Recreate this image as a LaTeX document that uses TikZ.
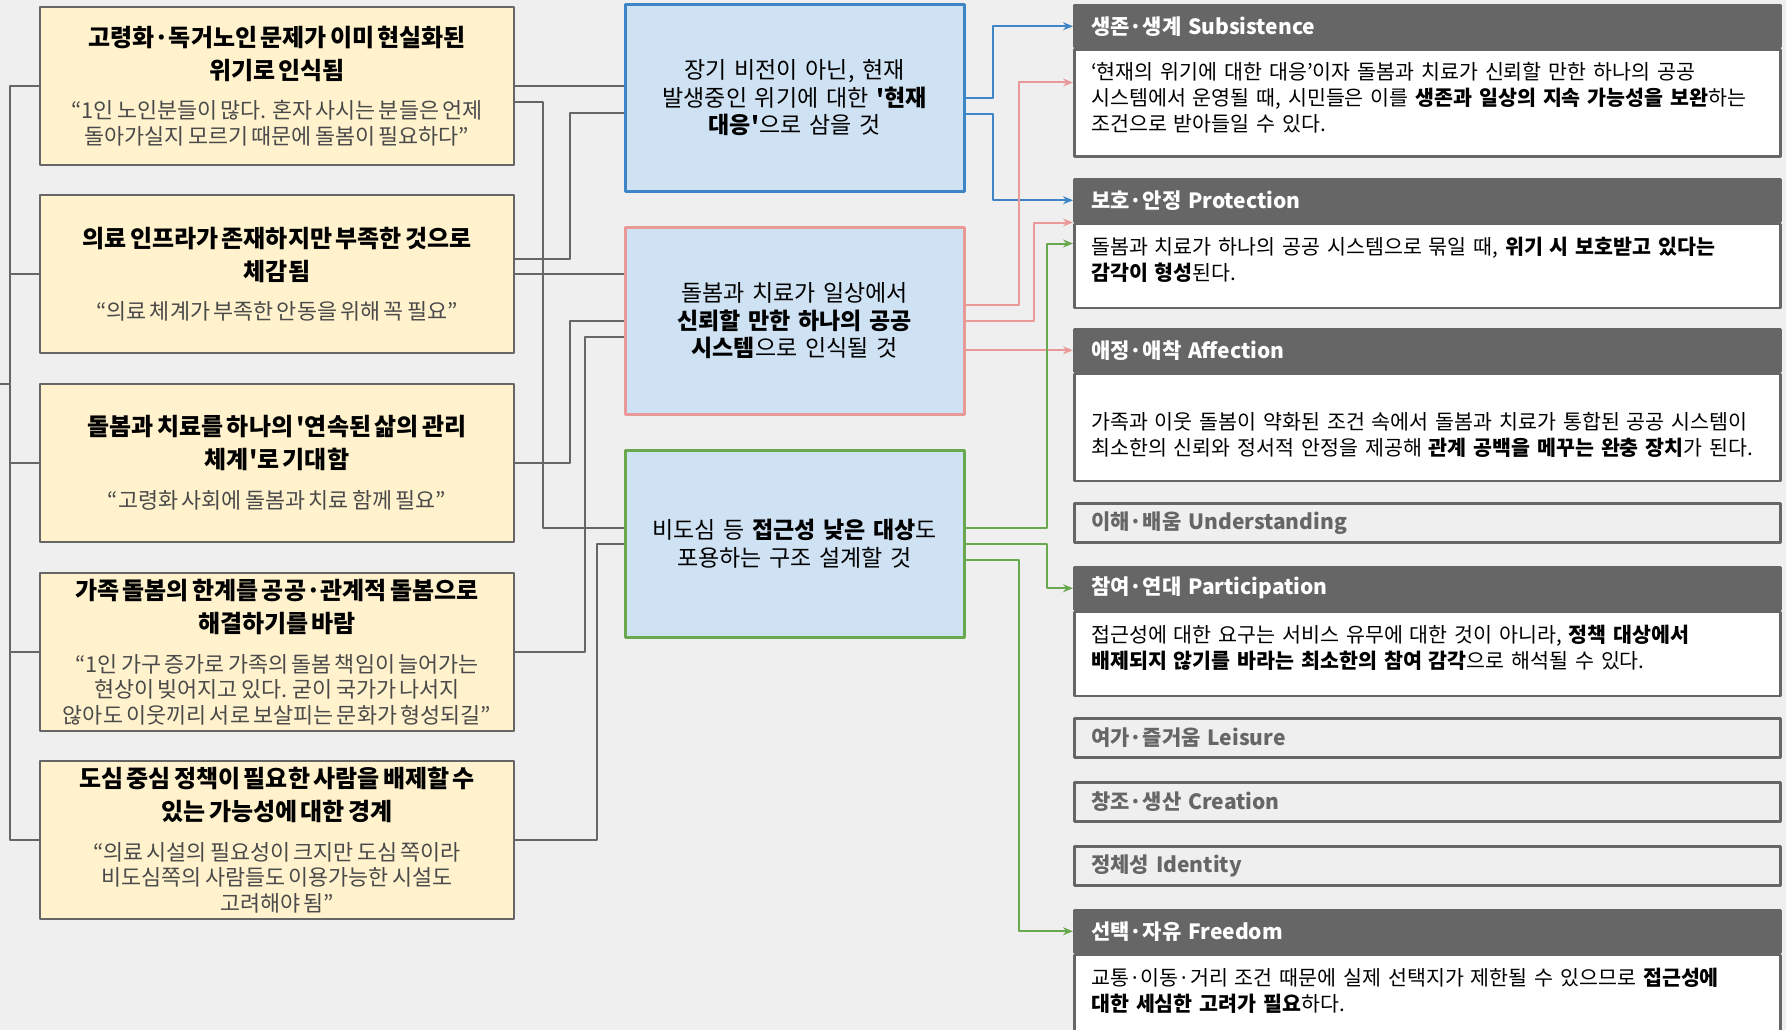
\documentclass[tikz,border=0pt]{standalone}
\usepackage{fontspec}
\setmainfont{Noto Sans CJK KR}
\usepackage{tikz}
\usetikzlibrary{calc,arrows.meta,positioning}

\definecolor{bgcol}{HTML}{EFEFEF}
\definecolor{noteyel}{HTML}{FFF2CC}
\definecolor{midfill}{HTML}{CFE2F3}
\definecolor{linkgray}{HTML}{666666}
\definecolor{blueln}{HTML}{3D85C6}
\definecolor{pinkln}{HTML}{EA9999}
\definecolor{greenln}{HTML}{6AA84F}
\definecolor{quotegray}{HTML}{4A4A4A}

\newcommand{\findtitle}{\fontsize{24}{33}\selectfont\bfseries}
\newcommand{\findquote}{\par\vspace{14pt}\fontsize{21.8}{25.5}\selectfont\mdseries\color{quotegray}}

\tikzset{
  finding/.style={draw=linkgray, line width=2.5pt, fill=noteyel, minimum width=474, minimum height=158,
    text width=460, align=center, inner sep=0},
  direction/.style={fill=midfill, line width=3pt, minimum width=339, minimum height=187,
    text width=324, align=center, inner sep=0, font=\fontsize{23}{27.5}\selectfont},
  needhead/.style={anchor=north west, fill=linkgray, draw=linkgray, line width=2.5pt, minimum width=706,
    minimum height=42, text width=672, inner xsep=17, inner ysep=0, align=left, text=white,
    font=\fontsize{21}{24}\selectfont\bfseries},
  needbody/.style={anchor=north west, fill=white, draw=linkgray, line width=2.5pt, minimum width=706,
    text width=672, inner xsep=17, inner ysep=0, align=left, font=\fontsize{20.6}{26}\selectfont,
    execute at end node={\par\vspace{11pt}}},
  needoff/.style={anchor=north west, fill=bgcol, draw=linkgray, line width=2.5pt, minimum width=706,
    minimum height=39, text width=672, inner xsep=17, inner ysep=0, align=left, text=linkgray,
    font=\fontsize{21}{24}\selectfont\bfseries},
  link/.style={draw=linkgray, line width=2pt},
  bluearr/.style={draw=blueln, line width=2pt, -{Stealth[length=10pt,width=8pt]}},
  pinkarr/.style={draw=pinkln, line width=2pt, -{Stealth[length=10pt,width=8pt]}},
  greenarr/.style={draw=greenln, line width=2pt, -{Stealth[length=10pt,width=8pt]}}
}

\begin{document}
\begin{tikzpicture}[x=1pt, y=-1pt, line join=round]
\useasboundingbox (0,0) rectangle (1786,1030);
\fill[bgcol] (0,0) rectangle (1786,1030);
% left: findings
\node[finding] (find1) at (277,86) {\findtitle 고령화·독거노인 문제가 이미 현실화된\\위기로 인식됨
  \findquote “1인 노인분들이 많다. 혼자 사시는 분들은 언제\\돌아가실지 모르기 때문에 돌봄이 필요하다”\par};
\node[finding] (find2) at (277,274) {\findtitle 의료 인프라가 존재하지만 부족한 것으로\\체감됨
  \findquote “의료 체계가 부족한 안동을 위해 꼭 필요”\par};
\node[finding] (find3) at (277,463) {\findtitle 돌봄과 치료를 하나의 \textquotesingle 연속된 삶의 관리\\체계\textquotesingle 로 기대함
  \findquote “고령화 사회에 돌봄과 치료 함께 필요”\par};
\node[finding] (find4) at (277,652) {\findtitle 가족 돌봄의 한계를 공공·관계적 돌봄으로\\해결하기를 바람
  \findquote “1인 가구 증가로 가족의 돌봄 책임이 늘어가는\\현상이 빚어지고 있다. 굳이 국가가 나서지\\않아도 이웃끼리 서로 보살피는 문화가 형성되길”\par};
\node[finding] (find5) at (277,840) {\findtitle 도심 중심 정책이 필요한 사람을 배제할 수\\있는 가능성에 대한 경계
  \findquote “의료 시설의 필요성이 크지만 도심 쪽이라\\비도심쪽의 사람들도 이용가능한 시설도\\고려해야 됨”\par};
% center: directions
\node[direction, draw=blueln] (crisis) at (794.5,98) {장기 비전이 아닌, 현재\\발생중인 위기에 대한 \textbf{\textquotesingle 현재}\\\textbf{대응\textquotesingle}으로 삼을 것};
\node[direction, draw=pinkln] (system) at (794.5,321) {돌봄과 치료가 일상에서\\\textbf{신뢰할 만한 하나의 공공}\\\textbf{시스템}으로 인식될 것};
\node[direction, draw=greenln] (access) at (794.5,543.5) {비도심 등 \textbf{접근성 낮은 대상}도\\포용하는 구조 설계할 것};
% right: needs
\node[needhead] (subH) at (1073,4) {생존·생계 Subsistence};
\node[needbody, minimum height=107] (subB) at (subH.south west) {‘현재의 위기에 대한 대응’이자 돌봄과 치료가 신뢰할 만한 하나의 공공\\시스템에서 운영될 때, 시민들은 이를 \textbf{생존과 일상의 지속 가능성을 보완}하는\\조건으로 받아들일 수 있다.};
\node[needhead] (proH) at (1073,178) {보호·안정 Protection};
\node[needbody, minimum height=84] (proB) at (proH.south west) {돌봄과 치료가 하나의 공공 시스템으로 묶일 때, \textbf{위기 시 보호받고 있다는}\\\textbf{감각이 형성}된다.};
\node[needhead] (affH) at (1073,328) {애정·애착 Affection};
\node[needbody, minimum height=107] (affB) at (affH.south west) {\strut\\가족과 이웃 돌봄이 약화된 조건 속에서 돌봄과 치료가 통합된 공공 시스템이\\최소한의 신뢰와 정서적 안정을 제공해 \textbf{관계 공백을 메꾸는 완충 장치}가 된다.};
\node[needhead] (parH) at (1073,566) {참여·연대 Participation};
\node[needbody, minimum height=84] (parB) at (parH.south west) {접근성에 대한 요구는 서비스 유무에 대한 것이 아니라, \textbf{정책 대상에서}\\\textbf{배제되지 않기를 바라는 최소한의 참여 감각}으로 해석될 수 있다.};
\node[needhead] (freH) at (1073,909) {선택·자유 Freedom};
\node[needbody, minimum height=84] (freB) at (freH.south west) {교통·이동·거리 조건 때문에 실제 선택지가 제한될 수 있으므로 \textbf{접근성에}\\\textbf{대한 세심한 고려가 필요}하다.};
\foreach \y/\nm/\txt in {502/undH/이해·배움 Understanding, 717/leiH/여가·즐거움 Leisure,
    781/creH/창조·생산 Creation, 845/idnH/정체성 Identity}
  \node[needoff] (\nm) at (1073,\y) {\txt};
% lines: findings to directions
\coordinate (root) at (0,384);
\foreach \n in {find1,find2,find3,find4,find5}
  \draw[link] (root) -- ++(10,0) |- (\n.west);
\draw[link] (find1.east) -- (find1.east -| crisis.west);
\draw[link] ($(find1.east)+(0,16)$) -- ++(28,0) |- ($(access.west)+(0,-16)$);
\draw[link] ($(find2.east)+(0,-15)$) -- ++(55,0) |- ($(crisis.west)+(0,15)$);
\draw[link] (find2.east) -- (find2.east -| system.west);
\draw[link] (find3.east) -- ++(55,0) |- (system.west);
\draw[link] (find4.east) -- ++(70,0) |- ($(system.west)+(0,16)$);
\draw[link] (find5.east) -- ++(82,0) |- (access.west);
% arrows: directions to needs
\draw[bluearr] (crisis.east) -- ++(27,0) |- (subH.west);
\draw[bluearr] ($(crisis.east)+(0,16)$) -- ++(27,0) |- (proH.west);
\draw[pinkarr] ($(system.east)+(0,-16)$) -- ++(53,0) |- ($(subH.south west)+(0,34)$);
\draw[pinkarr] (system.east) -- ++(68,0) |- (proH.south west);
\draw[pinkarr] (system.east |- affH.west) -- (affH.west);
\draw[greenarr] ($(access.east)+(0,-16)$) -- ++(81,0) |- ($(proH.south west)+(0,21)$);
\draw[greenarr] (access.east) -- ++(81,0) |- (parH.west);
\draw[greenarr] ($(access.east)+(0,16)$) -- ++(53,0) |- (freH.west);
\end{tikzpicture}
\end{document}
